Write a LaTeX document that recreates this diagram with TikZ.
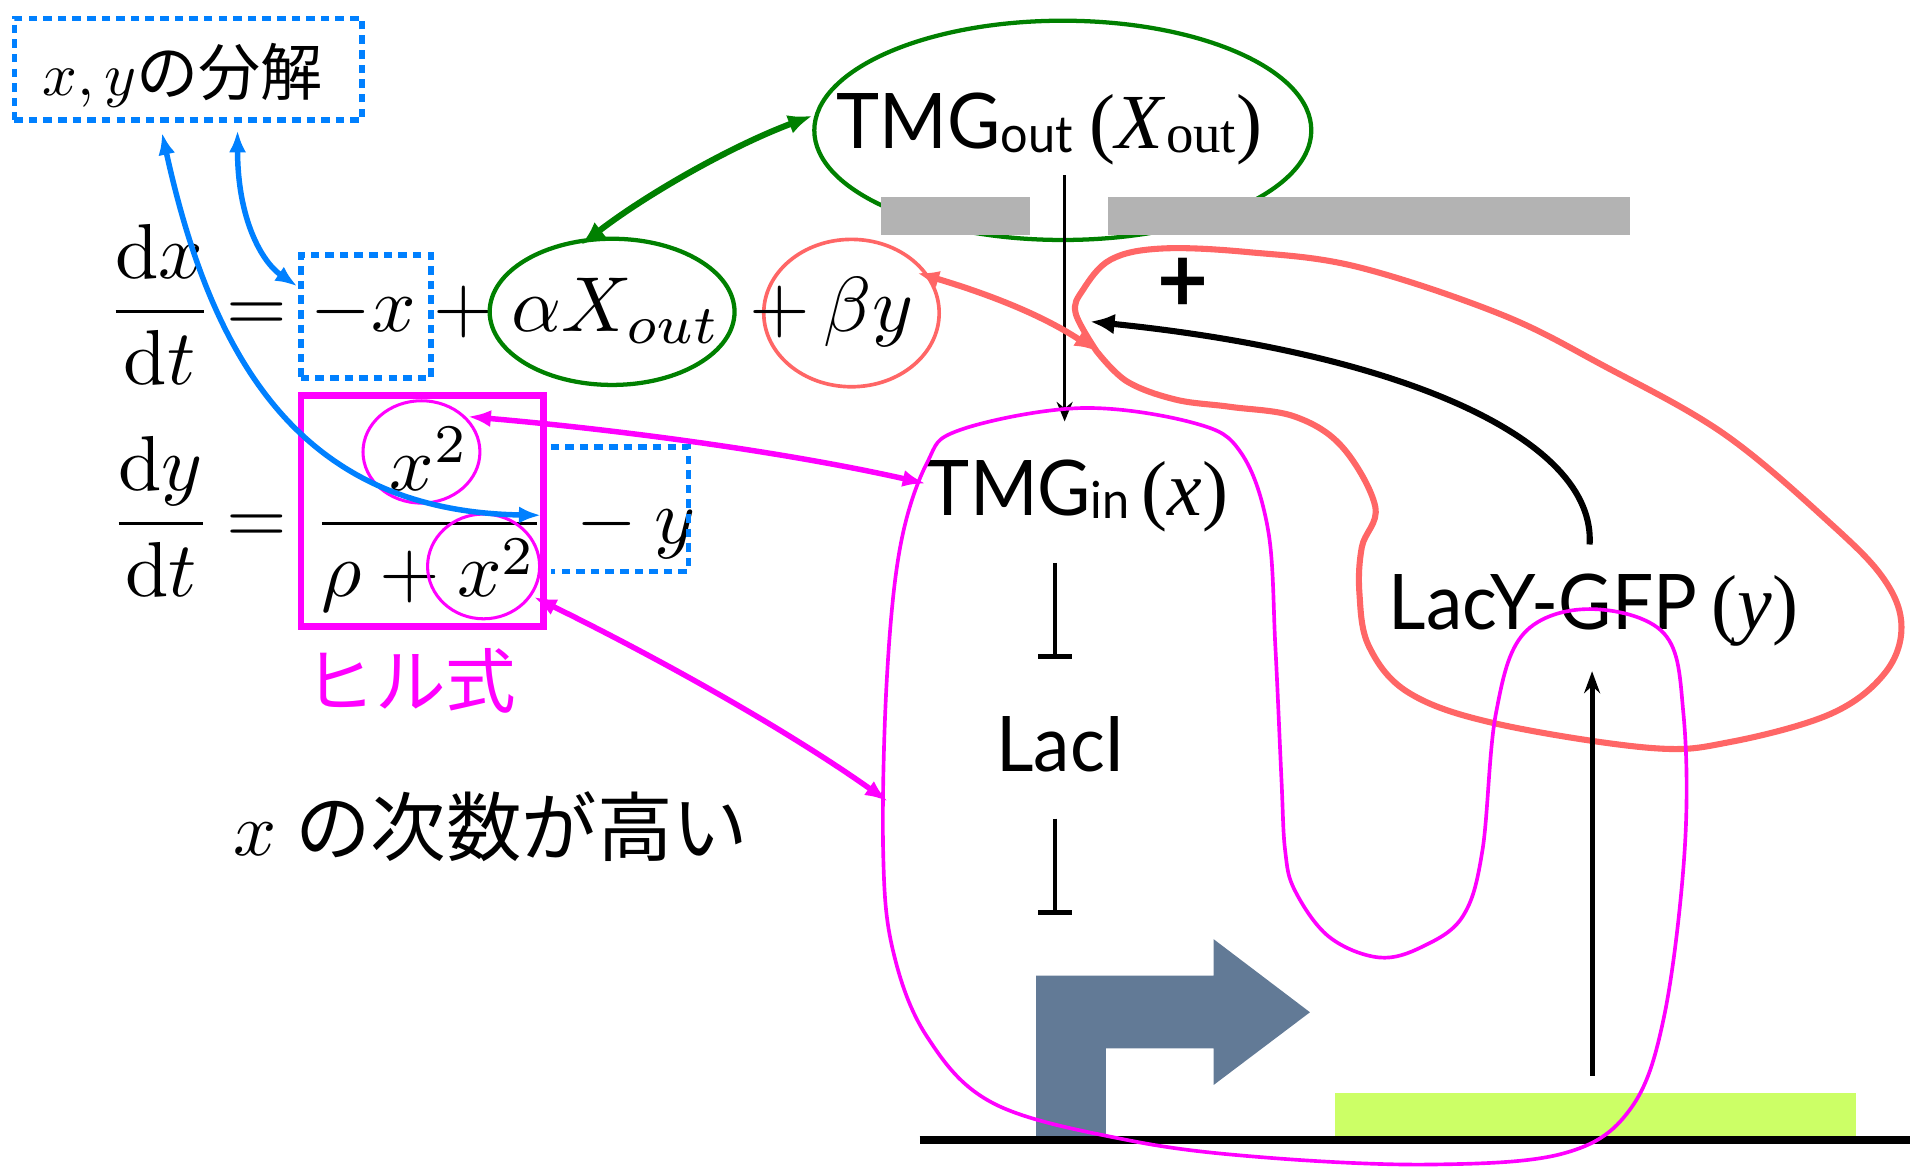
\RequirePackage{fix-cm}
\documentclass[tikz,border=0pt]{standalone}
\usepackage{amsmath}
\usepackage{graphicx}
\usepackage{fontspec}
\newfontfamily\gill[FakeStretch=0.95]{Lato}
\newfontfamily\tms{Liberation Serif}
\newfontfamily\jp{Noto Sans CJK JP}
\usetikzlibrary{arrows.meta,shapes.geometric}
\newcommand{\mth}[1]{\scalebox{6.4}{$#1$}}
\definecolor{mblue}{RGB}{0,128,255}
\definecolor{mgreen}{RGB}{0,128,0}
\definecolor{msalmon}{RGB}{255,102,102}
\definecolor{mmag}{RGB}{255,0,255}
\definecolor{mgray}{RGB}{179,179,179}
\definecolor{mslate}{RGB}{98,122,150}
\definecolor{mlime}{RGB}{204,255,102}
\tikzset{
  eq/.style={anchor=base},
  sanslab/.style={anchor=base west, font=\gill\fontsize{63}{70}\selectfont},
  dotbox/.style={draw=mblue, line width=4.5pt, dash pattern=on 7pt off 5pt},
  bluearr/.style={draw=mblue, line width=4.5pt, {Latex[length=18pt,width=14pt]}-{Latex[length=18pt,width=14pt]}},
  greenarr/.style={draw=mgreen, line width=5pt, {Latex[length=20pt,width=16pt]}-{Latex[length=20pt,width=16pt]}},
  magarr/.style={draw=mmag, line width=4.5pt, {Latex[length=19pt,width=14pt]}-{Latex[length=19pt,width=14pt]}},
  redarr/.style={draw=msalmon, line width=5pt, {Latex[length=18pt,width=14pt]}-{Latex[length=18pt,width=14pt]}},
  tbar/.style={draw=black, line width=3pt, -{Bar[width=28pt,line width=4pt]}},
}
\begin{document}
\begin{tikzpicture}[x=1pt,y=-1pt, every node/.style={inner sep=0pt, outer sep=0pt}]
\useasboundingbox (0,0) rectangle (1568,959);

% ---------- right part: membrane and TMG out ----------
\node[draw=mgreen, line width=3.5pt, ellipse, minimum width=408pt, minimum height=180pt] (oute) at (872.5,107) {};
\fill[mgray] (723,161.5) rectangle (845.6,193);
\fill[mgray] (909.5,161.5) rectangle (1338.4,193);
\node[anchor=base west] (tmgout) at (687,122) {{\gill\fontsize{63}{70}\selectfont TMG\raisebox{-3pt}{\fontsize{42}{42}\selectfont out}}\hspace{14pt}{\tms\fontsize{64}{70}\selectfont(\textit{X}\raisebox{-3pt}{\fontsize{45}{45}\selectfont out})}};

\coordinate (vtop) at (874,144);
\coordinate (vbot) at (874,346);
\draw[line width=3pt, -{Stealth[length=16pt,width=13pt]}] (vtop) -- (vbot);

% ---------- DNA ----------
\fill[mlime] (1095.8,897.3) rectangle (1523.5,932.6);
\fill[mslate] (850.6,932.6) -- (850.6,801) -- (996.3,801) -- (996.3,771) -- (1075.4,831) -- (996.3,890.7) -- (996.3,860.6) -- (907.8,860.6) -- (907.8,932.6) -- cycle;
\coordinate (dnaL) at (755,936);
\coordinate (dnaR) at (1568,936);
\draw[line width=6.5pt] (dnaL) -- (dnaR);

% ---------- labels ----------
\node[anchor=base west] (tmgin) at (761,423) {{\gill\fontsize{63}{70}\selectfont TMG\raisebox{-3pt}{\fontsize{42}{42}\selectfont in}}\hspace{10pt}{\tms\fontsize{64}{70}\selectfont(\textit{x})}};
\node[sanslab] (laci) at (818,633) {LacI};
\node[anchor=base west] (lacy) at (1140,517) {{\gill\fontsize{63}{70}\selectfont LacY-GFP}\hspace{12pt}{\tms\fontsize{64}{70}\selectfont(\textit{y})}};
\node[font=\gill\bfseries\fontsize{76}{80}\selectfont] (plus) at (971,234) {+};

\coordinate (t1a) at (866,462);
\coordinate (t1b) at (866,541);
\coordinate (t2a) at (866,672);
\coordinate (t2b) at (866,751);
\draw[tbar] (t1a) -- (t1b);
\draw[tbar] (t2a) -- (t2b);

% ---------- red loop and arrows ----------
\draw[msalmon, line width=5pt, line join=round] plot[smooth, tension=0.6] coordinates {(900,288) (883,257) (889,238) (912,213) (954,204) (1025,207) (1114,219) (1232,258) (1316,300) (1415,356) (1503,430) (1547,476) (1561,515) (1547,553) (1503,586) (1421,609) (1355,614) (1228,594) (1157,569) (1124,531) (1116,487) (1118,449) (1129,416) (1102,367) (1063,342) (1010,334) (965,328) (925,313) (900,288)};

\coordinate (upbot) at (1307,883);
\coordinate (uptop) at (1307,551);
\draw[line width=4pt, -{Stealth[length=18pt,width=13pt]}] (upbot) -- (uptop);

\coordinate (fbstart) at (1305,447);
\coordinate (fbtip) at (895,264);
\draw[line width=5pt, -{Latex[length=20pt,width=17pt]}] (fbstart) .. controls (1310,360) and (1150,290) .. (fbtip);

\coordinate (kink) at (900,288);
\node[draw=msalmon, line width=3pt, ellipse, minimum width=144pt, minimum height=121pt] (bye) at (699,257) {};
\coordinate (byetip) at (753,224);
\draw[redarr] (byetip) .. controls (800,238) and (850,255) .. (kink);

% ---------- magenta loop ----------
\draw[mmag, line width=3pt] plot[smooth cycle, tension=0.6] coordinates {(887,335) (981,347.5) (1019,372) (1041,435) (1047,531) (1052,640) (1055,698) (1063,731) (1091,769) (1132,786) (1168,777) (1201,752) (1217,698) (1228,586) (1251,520) (1305,500) (1366,520) (1382,586) (1383,698) (1366,835) (1338,911) (1283,947) (1173,956) (1036,950) (926,936) (816,906) (761,851) (733,780) (725,698) (728,558) (739,449) (761,380) (788,353)};

% ---------- equations ----------
\node[anchor=base] (xytxt) at (150,78) {\scalebox{5}{$x,y$}{\jp\fontsize{51}{56}\selectfont の分解}};
\node[dotbox, minimum width=285.6pt, minimum height=83.5pt] (decbox) at (154.5,56.75) {};

\node[eq] (dxdt) at (131,272) {\mth{\dfrac{\mathrm{d}x}{\mathrm{d}t}}};
\node[eq] (eqa) at (211,272) {\mth{=}};
\node[eq] (mx) at (298,272) {\mth{-x}};
\node[dotbox, minimum width=107pt, minimum height=101pt] (mxbox) at (300.5,260) {};
\node[eq] (pa) at (381,272) {\mth{+}};
\node[eq] (ax) at (506,272) {\mth{\alpha X_{out}}};
\node[draw=mgreen, line width=3.5pt, ellipse, minimum width=201pt, minimum height=120pt] (axe) at (502.5,256) {};
\node[eq] (pb) at (640,272) {\mth{+}};
\node[eq] (by) at (713,272) {\mth{\beta y}};

\node[eq] (dydt) at (132,446) {\mth{\dfrac{\mathrm{d}y}{\mathrm{d}t}}};
\node[eq] (eqb) at (211,446) {\mth{=}};
\node[eq] (hill) at (352.5,446) {\mth{\dfrac{x^2}{\rho+x^2}}};
\node[draw=mmag, line width=5.5pt, minimum width=199pt, minimum height=190pt] (hillbox) at (346.5,419.4) {};
\node[eq] (my) at (515,446) {\mth{{}-y}};
\draw[dotbox] (452,367) -- (565,367) -- (565,469) -- (452,469);
\node[draw=mmag, line width=2.5pt, ellipse, minimum width=96pt, minimum height=84pt] (nume) at (346,371) {};
\node[draw=mmag, line width=2.5pt, ellipse, minimum width=92pt, minimum height=86pt] (dene) at (397,465) {};

\node[font=\jp\fontsize{58}{60}\selectfont, text=mmag, anchor=base] (hilltxt) at (337,581) {ヒル式};
\node[anchor=base] (deg) at (403,702) {\scalebox{6.2}{$x$}\hspace{15pt}{\jp\fontsize{62}{66}\selectfont の次数が高い}};

% ---------- arrows on the left ----------
\coordinate (mtipa) at (384,342);
\coordinate (mtipb) at (760,397);
\draw[magarr] (mtipa) .. controls (500,352) and (640,370) .. (mtipb);
\coordinate (mtipc) at (438,490);
\coordinate (mtipd) at (729,658);
\draw[magarr] (mtipc) .. controls (530,535) and (640,595) .. (mtipd);

\coordinate (ba1) at (195,107);
\coordinate (ba2) at (244,235);
\draw[bluearr] (ba1) .. controls (195,180) and (215,215) .. (ba2);
\coordinate (bb1) at (133,109);
\coordinate (bb2) at (444,423);
\draw[bluearr] (bb1) .. controls (175,300) and (250,420) .. (bb2);

\coordinate (ga1) at (477,201);
\coordinate (ga2) at (667,95);
\draw[greenarr] (ga1) .. controls (530,160) and (600,120) .. (ga2);
\end{tikzpicture}
\end{document}
